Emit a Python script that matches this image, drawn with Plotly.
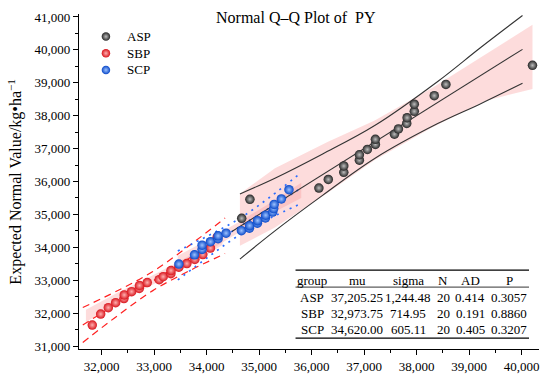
import plotly.graph_objects as go

# ---------------- data ----------------
groups = ["ASP", "SBP", "SCP"]

asp_x = [34667, 34823, 36137, 36316, 36611, 36611, 36908, 36908, 37060, 37213,
         37213, 37576, 37652, 37810, 37817, 37954, 37954, 38334, 38556, 40205]
asp_y = [34880, 35459, 35802, 36062, 36279, 36472, 36648, 36813, 36973, 37128,
         37282, 37438, 37597, 37763, 37938, 38131, 38349, 38609, 38951, 39530]

sbp_x = [31821, 31981, 32126, 32266, 32424, 32430, 32570, 32716, 32720, 32868,
         33095, 33171, 33318, 33320, 33470, 33622, 33774, 33926, 34072, 34200]
sbp_y = [31638, 31971, 32167, 32317, 32442, 32553, 32653, 32749, 32840, 32929,
         33018, 33107, 33199, 33294, 33395, 33506, 33631, 33780, 33977, 34309]

scp_x = [33470, 33768, 33912, 33912, 34072, 34217, 34217, 34369, 34662, 34814,
         34818, 34966, 34970, 35118, 35124, 35257, 35276, 35285, 35422, 35567]
scp_y = [33490, 33771, 33937, 34064, 34170, 34264, 34349, 34429, 34507, 34582,
         34658, 34733, 34811, 34891, 34976, 35070, 35176, 35303, 35469, 35750]

# confidence-band lines: reference line y = x with half widths
asp_band_x = [34633, 35300, 36200, 37200, 38400, 39200, 40015]
asp_band_half = [990, 800, 630, 500, 640, 850, 1030]
sbp_band_x = [31640, 32300, 32974, 33650, 34350]
sbp_band_half = [530, 380, 290, 380, 540]
scp_band_x = [33450, 34050, 34620, 35200, 35800]
scp_band_half = [440, 320, 250, 320, 470]
asp_center_x = [34480, 40015]

# shaded (pink) bands
asp_fill_x = [34633, 35300, 36300, 37200, 38300, 39300, 40205]
asp_fill_upper = [35627, 36400, 37200, 37850, 38850, 39850, 40760]
asp_fill_lower = [34045, 34600, 35650, 36650, 37650, 38450, 38812]
sbp_fill_x = [31700, 32300, 32974, 33650, 34300]
sbp_fill_upper = [32100, 32620, 33150, 33720, 34440]
sbp_fill_lower = [31730, 32300, 32860, 33430, 34070]
scp_fill_x = [33450, 34050, 34620, 35200, 35800]
scp_fill_upper = [33740, 34250, 34780, 35340, 35960]
scp_fill_lower = [33300, 33900, 34460, 35000, 35500]

# statistics table
table_header = ["group", "mu", "sigma", "N", "AD", "P"]
table_mu = ["37,205.25", "32,973.75", "34,620.00"]
table_sigma = ["1,244.48", "714.95", "605.11"]
table_n = ["20", "20", "20"]
table_ad = ["0.414", "0.191", "0.405"]
table_p = ["0.3057", "0.8860", "0.3207"]

# ---------------- figure ----------------
FONT = "Liberation Serif, Times New Roman, serif"
W, H = 550, 384
ML, MR, MT, MB = 79, 10, 12, 31
PW, PH = W - ML - MR, H - MT - MB


def px2paper_x(px):
    return (px - ML) / PW


def py2paper_y(py):
    return (H - MB - py) / PH


fig = go.Figure()

fill_col = "rgba(248,150,150,0.33)"
for fx, fu, fl in [(asp_fill_x, asp_fill_upper, asp_fill_lower),
                   (sbp_fill_x, sbp_fill_upper, sbp_fill_lower),
                   (scp_fill_x, scp_fill_upper, scp_fill_lower)]:
    fig.add_trace(go.Scatter(
        x=list(fx) + list(fx)[::-1], y=list(fu) + list(fl)[::-1],
        mode="lines", fill="toself", fillcolor=fill_col,
        line=dict(width=0), showlegend=False, hoverinfo="skip"))

band_specs = [
    (asp_band_x, asp_band_half, dict(color="#333333", width=1.1, dash="solid")),
    (sbp_band_x, sbp_band_half, dict(color="#ff2020", width=1.2, dash="7px,5px")),
    (scp_band_x, scp_band_half, dict(color="#2a6dff", width=1.7, dash="2px,5px")),
]
for bx, bh, ln in band_specs:
    up = [x + h for x, h in zip(bx, bh)]
    lo = [x - h for x, h in zip(bx, bh)]
    for yy in (up, lo):
        fig.add_trace(go.Scatter(x=bx, y=yy, mode="lines",
                                 line=dict(shape="spline", **ln),
                                 showlegend=False, hoverinfo="skip"))
    if ln["dash"] != "solid":
        fig.add_trace(go.Scatter(x=[bx[0], bx[-1]], y=[bx[0], bx[-1]], mode="lines",
                                 line=ln, showlegend=False, hoverinfo="skip"))

fig.add_trace(go.Scatter(x=asp_center_x, y=asp_center_x, mode="lines",
                         line=dict(color="#333333", width=1.1),
                         showlegend=False, hoverinfo="skip"))

marker_specs = [
    ("ASP", asp_x, asp_y, "#262626", "#bdbdbd"),
    ("SBP", sbp_x, sbp_y, "#d8141c", "#ffb0b0"),
    ("SCP", scp_x, scp_y, "#0a48c8", "#9cc2ff"),
]
for name, xs, ys, c, g in marker_specs:
    fig.add_trace(go.Scatter(
        x=xs, y=ys, mode="markers", name=name, showlegend=False,
        marker=dict(size=9.5, color=c, gradient=dict(type="radial", color=g),
                    line=dict(width=0))))

# manual legend (overlay axis in paper-like units)
leg_px_marker = 106
leg_px_text = 125
leg_py = [35, 52, 69]
fig.add_trace(go.Scatter(
    x=[px2paper_x(leg_px_marker)] * 3, y=[py2paper_y(p) for p in leg_py],
    xaxis="x2", yaxis="y2", mode="markers", showlegend=False, hoverinfo="skip",
    marker=dict(size=8.5, color=[m[3] for m in marker_specs],
                gradient=dict(type="radial", color=[m[4] for m in marker_specs]),
                line=dict(width=0))))

axis_common = dict(
    showline=True, linecolor="black", linewidth=1.2, mirror=False,
    ticks="outside", ticklen=5, tickwidth=1, tickcolor="black",
    showgrid=False, zeroline=False, tickformat=",d",
    tickfont=dict(family=FONT, size=13, color="black"),
    tick0=0, dtick=1000,
    minor=dict(ticks="outside", ticklen=3, tickcolor="black", dtick=500, tick0=0, showgrid=False),
)
fig.update_xaxes(range=[31568, 40329], **axis_common)
fig.update_yaxes(range=[30910, 41090], **axis_common)

annotations = [
    dict(text="Normal Q\u2013Q Plot of\u00a0 PY", x=px2paper_x(296), y=py2paper_y(16),
         xref="paper", yref="paper", showarrow=False, xanchor="center", yanchor="middle",
         font=dict(family=FONT, size=16, color="black")),
    dict(text="Expected Normal Value/kg\u2022ha<sup>\u22121</sup>", x=px2paper_x(15), y=0.5,
         xref="paper", yref="paper", showarrow=False, textangle=-90,
         xanchor="center", yanchor="middle",
         font=dict(family=FONT, size=16, color="black")),
]
for g, p in zip(groups, leg_py):
    annotations.append(dict(text=g, x=px2paper_x(leg_px_text), y=py2paper_y(p),
                            xref="paper", yref="paper", showarrow=False,
                            xanchor="left", yanchor="middle",
                            font=dict(family=FONT, size=13, color="black")))

col_px = [313, 358, 409, 444, 471, 510]
row_py = [283, 300.7, 316.7, 332.7]
rows = [table_header] + [[g, m, s, n, a, p] for g, m, s, n, a, p in
                         zip(groups, table_mu, table_sigma, table_n, table_ad, table_p)]
for r, rv in enumerate(rows):
    for c, txt in enumerate(rv):
        annotations.append(dict(text=txt, x=px2paper_x(col_px[c]), y=py2paper_y(row_py[r]),
                                xref="paper", yref="paper", showarrow=False,
                                xanchor="center", yanchor="middle",
                                font=dict(family=FONT, size=13, color="black")))

shapes = []
for ly, lw in [(272.7, 1.2), (290, 0.8), (342, 1.2)]:
    shapes.append(dict(type="line", xref="paper", yref="paper",
                       x0=px2paper_x(296), x1=px2paper_x(530),
                       y0=py2paper_y(ly), y1=py2paper_y(ly),
                       line=dict(color="black", width=lw)))

fig.update_layout(
    width=W, height=H, margin=dict(l=ML, r=MR, t=MT, b=MB),
    paper_bgcolor="white", plot_bgcolor="white",
    showlegend=False,
    xaxis2=dict(overlaying="x", range=[0, 1], visible=False, fixedrange=True),
    yaxis2=dict(overlaying="y", range=[0, 1], visible=False, fixedrange=True),
    annotations=annotations, shapes=shapes,
)

fig.write_html("out.html", config={"displayModeBar": False},
               post_script="document.body.style.margin='0px';")
